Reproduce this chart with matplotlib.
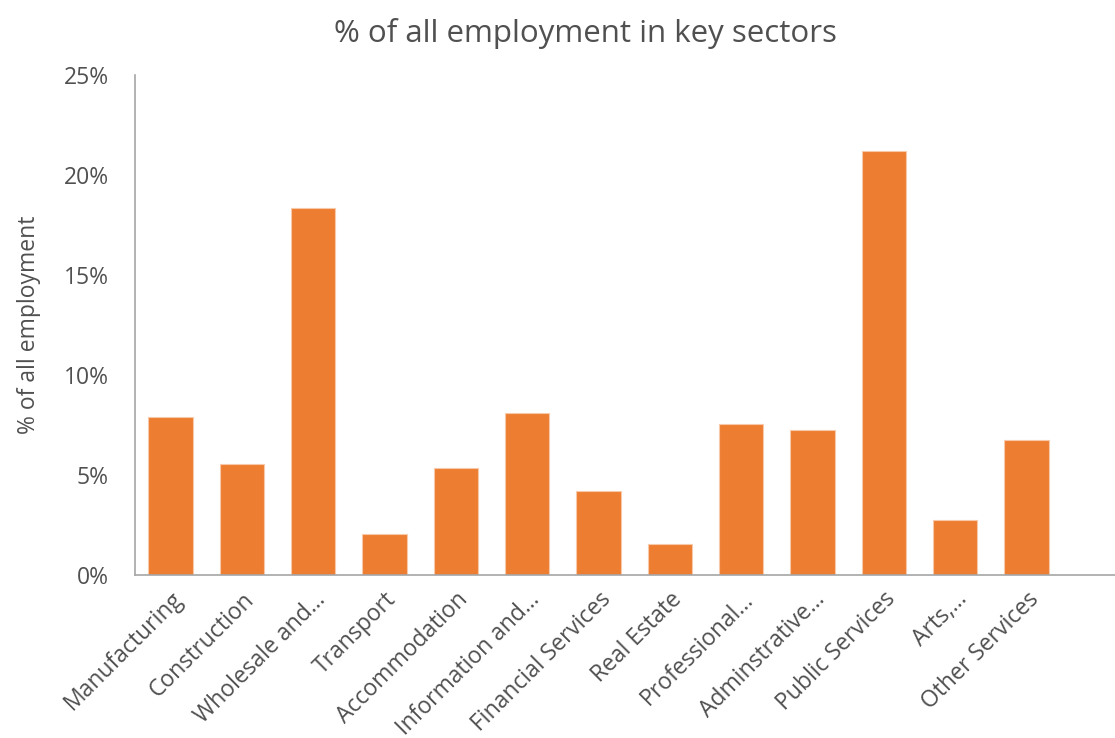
import matplotlib.pyplot as plt
from matplotlib.ticker import FuncFormatter

plt.rcParams["font.family"] = ["Open Sans", "DejaVu Sans"]

sectors = [
    "Manufacturing", "Construction", "Wholesale and…", "Transport",
    "Accommodation", "Information and…", "Financial Services", "Real Estate",
    "Professional…", "Adminstrative…", "Public Services", "Arts,…",
    "Other Services",
]
share = [7.9, 5.55, 18.33, 2.05, 5.35, 8.1, 4.2, 1.55, 7.55, 7.25, 21.22, 2.75, 6.75]

TEXT = "#505050"
AXIS = "#A6A6A6"
ORANGE = "#ED7D31"

fig = plt.figure(figsize=(11.15, 7.38), dpi=100)
ax = fig.add_axes([0.121, 0.2209, 0.879, 0.6775])

x = range(len(sectors))
ax.bar(x, share, width=0.62, color=ORANGE, edgecolor="#F8C9A8", linewidth=0.8)

ax.set_xlim(-0.5, 13.24)
ax.set_ylim(0, 25)
ax.set_yticks([0, 5, 10, 15, 20, 25])
ax.yaxis.set_major_formatter(FuncFormatter(lambda v, _: f"{v:.0f}%"))
ax.set_xticks(list(x))
ax.set_xticklabels(sectors, rotation=45, ha="right", rotation_mode="anchor",
                   fontsize=16.5, color=TEXT)
ax.tick_params(axis="y", labelsize=16.5, labelcolor=TEXT, length=0, pad=19)
ax.tick_params(axis="x", length=0, pad=9)

for side in ("top", "right"):
    ax.spines[side].set_visible(False)
for side in ("left", "bottom"):
    ax.spines[side].set_color(AXIS)
    ax.spines[side].set_linewidth(1.2)

ax.set_ylabel("% of all employment", fontsize=16.5, color=TEXT, labelpad=16)
fig.text(0.525, 0.955, "% of all employment in key sectors", ha="center",
         va="center", fontsize=22.5, color=TEXT)

fig.savefig("out.png", dpi=100)
